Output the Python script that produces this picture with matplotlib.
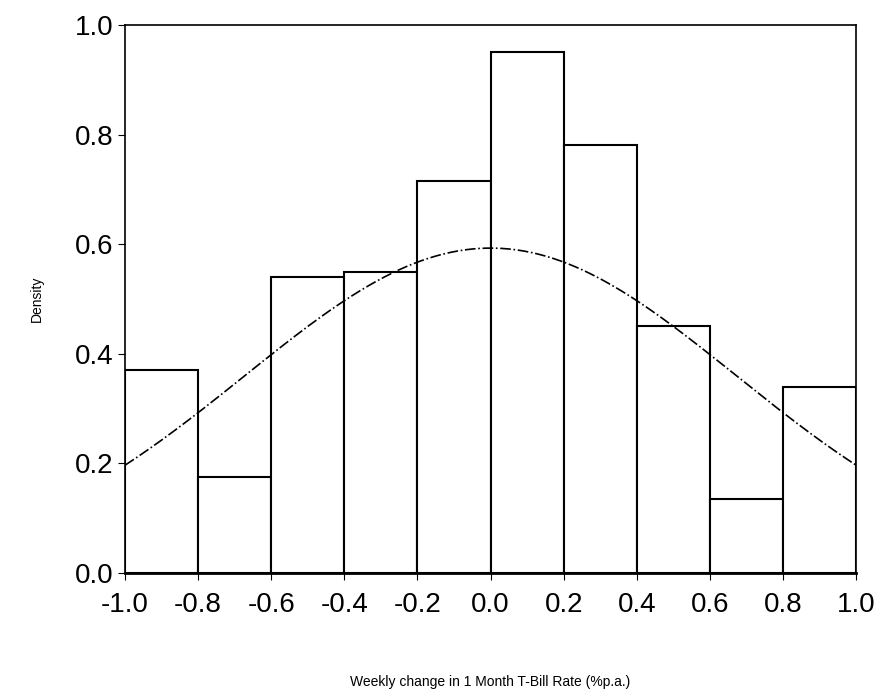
import numpy as np
import matplotlib
matplotlib.use("Agg")
import matplotlib.pyplot as plt

plt.rcParams["font.family"] = ["Liberation Sans", "DejaVu Sans"]

bin_edges = [-1.0, -0.8, -0.6, -0.4, -0.2, 0.0, 0.2, 0.4, 0.6, 0.8, 1.0]
densities = [0.37, 0.175, 0.54, 0.55, 0.715, 0.95, 0.78, 0.45, 0.135, 0.34]
fit_mean = 0.0
fit_sd = 0.673

fig = plt.figure(figsize=(8.8, 6.92), dpi=100)
ax = fig.add_axes([0.142, 0.172, 0.831, 0.792])

ax.bar(bin_edges[:-1], densities, width=np.diff(bin_edges), align="edge",
       facecolor="white", edgecolor="black", linewidth=1.5)

xs = np.linspace(-1, 1, 300)
pdf = np.exp(-0.5 * ((xs - fit_mean) / fit_sd) ** 2) / (fit_sd * np.sqrt(2 * np.pi))
ax.plot(xs, pdf, color="black", linestyle="-.", linewidth=1.2)

ax.set_xlim(-1, 1)
ax.set_ylim(0, 1)
ax.set_xticks(bin_edges)
ax.set_xticklabels([f"{v:.1f}" for v in bin_edges])
ax.set_yticks([0, 0.2, 0.4, 0.6, 0.8, 1.0])
ax.set_yticklabels([f"{v:.1f}" for v in [0, 0.2, 0.4, 0.6, 0.8, 1.0]])
ax.tick_params(direction="out", labelsize=20, length=5, top=False, right=False)
ax.tick_params(axis="x", pad=9)
for s in ax.spines.values():
    s.set_linewidth(1.2)
ax.spines["bottom"].set_linewidth(2)

ax.set_xlabel("Weekly change in 1 Month T-Bill Rate (%p.a.)", fontsize=10, labelpad=41)
ax.set_ylabel("Density", fontsize=10, labelpad=22)

fig.savefig("out.png")
